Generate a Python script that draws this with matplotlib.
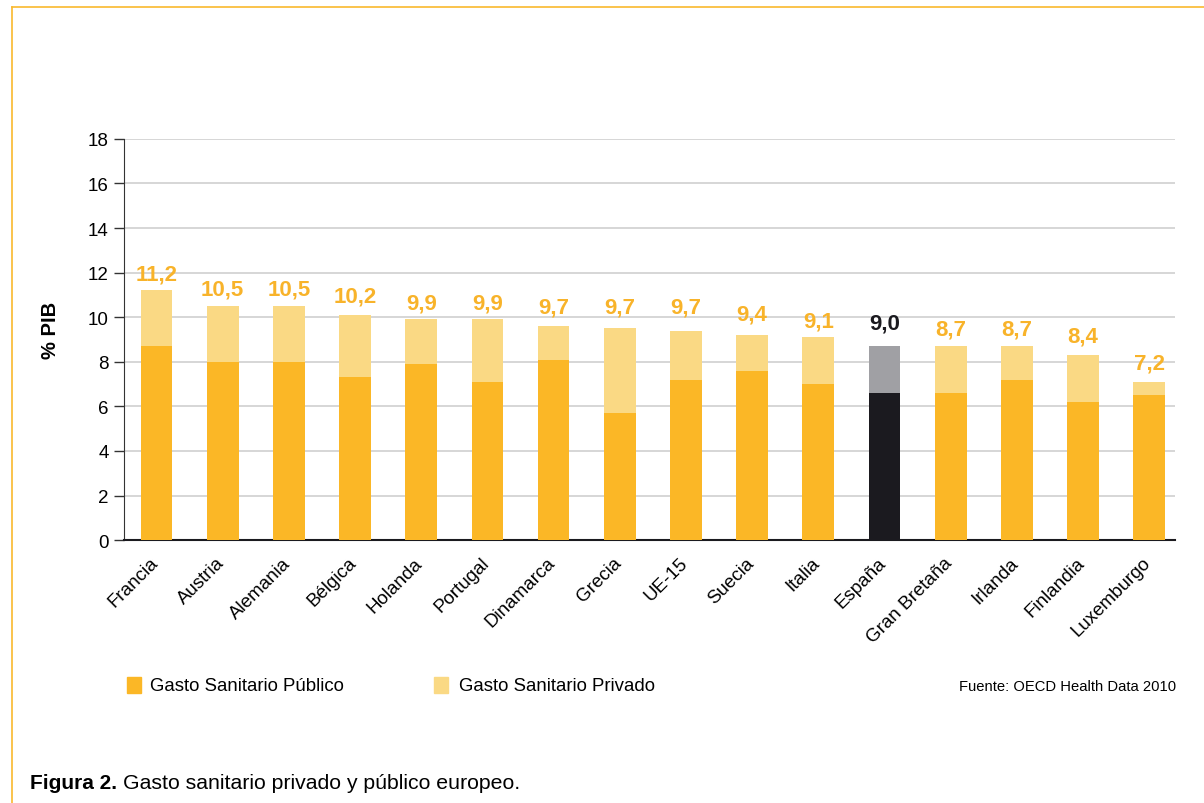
import matplotlib.pyplot as plt
import matplotlib.transforms as mtransforms
from matplotlib.patches import Rectangle
from matplotlib.lines import Line2D

plt.rcParams['font.family'] = ['Liberation Sans', 'DejaVu Sans']

# data
paises = ["Francia", "Austria", "Alemania", "Bélgica", "Holanda", "Portugal",
          "Dinamarca", "Grecia", "UE-15", "Suecia", "Italia", "España",
          "Gran Bretaña", "Irlanda", "Finlandia", "Luxemburgo"]
publico = [8.7, 8.0, 8.0, 7.3, 7.9, 7.1, 8.1, 5.7, 7.2, 7.6, 7.0, 6.6, 6.6, 7.2, 6.2, 6.5]
total = [11.2, 10.5, 10.5, 10.1, 9.9, 9.9, 9.6, 9.5, 9.4, 9.2, 9.1, 8.7, 8.7, 8.7, 8.3, 7.1]
etiquetas = [11.2, 10.5, 10.5, 10.2, 9.9, 9.9, 9.7, 9.7, 9.7, 9.4, 9.1, 9.0, 8.7, 8.7, 8.4, 7.2]
privado = [t - p for t, p in zip(total, publico)]

naranja = '#FBB726'
claro = '#FAD984'
texto_nar = '#F8B32A'

fig = plt.figure(figsize=(12.04, 8.04), dpi=100)
ax = fig.add_axes([0.103, 0.327, 0.873, 0.499])

x = range(len(paises))
col_pub = ['#1B1A1F' if p == 'España' else naranja for p in paises]
col_priv = ['#A0A0A4' if p == 'España' else claro for p in paises]
ax.bar(x, publico, width=0.48, color=col_pub, zorder=3)
ax.bar(x, privado, width=0.48, bottom=publico, color=col_priv, zorder=3)

for i, v in enumerate(etiquetas):
    c = '#1B1A1F' if paises[i] == 'España' else texto_nar
    ax.text(i, v + 0.75, f"{v:.1f}".replace('.', ','), ha='center', va='center',
            fontsize=16, fontweight='bold', color=c, zorder=4)

ax.set_ylim(0, 18)
ax.set_xlim(-0.49, 15.39)
ax.set_yticks(range(0, 19, 2))
ax.yaxis.grid(True, color='#D0D0D0', linewidth=1.2, zorder=0)
ax.set_xticks(list(x))
ax.set_xticklabels(paises, rotation=45, ha='right', rotation_mode='anchor', fontsize=13.5)
ax.tick_params(axis='x', length=0, pad=10)
ax.tick_params(axis='y', length=7, width=1, color='#333333', labelsize=13.5, pad=4)
# nudge the rotated labels so they end under the bar centre
desplaza = mtransforms.ScaledTranslation(-0.07, 0, fig.dpi_scale_trans)
for lab in ax.get_xticklabels():
    lab.set_transform(lab.get_transform() + desplaza)
for s in ['top', 'right']:
    ax.spines[s].set_visible(False)
ax.spines['left'].set_color('#333333')
ax.spines['bottom'].set_color('#1B1A1F')
ax.spines['bottom'].set_linewidth(1.5)
ax.set_ylabel('% PIB', fontsize=14.5, fontweight='bold')
ax.yaxis.set_label_coords(-0.061, 0.526)

# legend
fig.patches.append(Rectangle((127 / 1204, 1 - 694 / 804), 14 / 1204, 16 / 804,
                             transform=fig.transFigure, color=naranja))
fig.text(150 / 1204, 1 - 687 / 804, 'Gasto Sanitario Público', fontsize=13.4, va='center')
fig.patches.append(Rectangle((434 / 1204, 1 - 694 / 804), 14 / 1204, 16 / 804,
                             transform=fig.transFigure, color=claro))
fig.text(459 / 1204, 1 - 687 / 804, 'Gasto Sanitario Privado', fontsize=13.4, va='center')
fig.text(1176 / 1204, 1 - 687 / 804, 'Fuente: OECD Health Data 2010', fontsize=10.6,
         va='center', ha='right')

# caption
fig.text(30 / 1204, 1 - 784 / 804, 'Figura 2.', fontsize=15, fontweight='bold', va='center')
fig.text(123 / 1204, 1 - 784 / 804, 'Gasto sanitario privado y público europeo.',
         fontsize=15.3, va='center')

# orange frame (top and left)
marco = '#F9B92E'
fig.lines.append(Line2D([12 / 1204, 1], [1 - 8 / 804, 1 - 8 / 804],
                        transform=fig.transFigure, color=marco, linewidth=1.2))
fig.lines.append(Line2D([12 / 1204, 12 / 1204], [0, 1 - 8 / 804],
                        transform=fig.transFigure, color=marco, linewidth=1.2))

fig.savefig('out.png', dpi=100)
